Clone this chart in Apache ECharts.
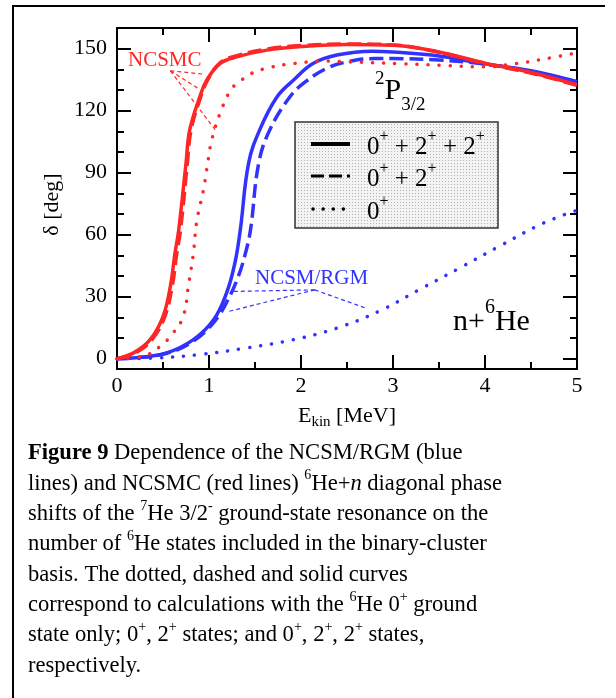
<!DOCTYPE html>
<html>
<head>
<meta charset="utf-8">
<script src="https://cdn.jsdelivr.net/npm/echarts@6/dist/echarts.min.js"></script>
<style>
  html, body { margin: 0; padding: 0; background: #fff; }
  #main { width: 616px; height: 698px; }
</style>
</head>
<body>
<div id="main"></div>
<script>
// n + 6He phase shifts, 2P3/2 channel
var redFullE = [0, 0.18, 0.36, 0.5, 0.58, 0.63, 0.67, 0.75, 0.79, 0.9, 0.975, 1.12, 1.3, 1.63, 2.0, 2.5, 3.0, 3.5, 4.0, 4.5, 5.0];
var redFullD = [0, 2.8, 9.2, 20.4, 35, 51, 62, 94.5, 110.6, 126.7, 134.8, 142.8, 146, 149.3, 151, 152, 151.7, 148.4, 143, 138.5, 132.5];
var redTwoE = [0, 0.2, 0.38, 0.52, 0.6, 0.65, 0.69, 0.765, 0.805, 0.91, 0.985, 1.12, 1.3, 1.63, 2.0, 2.5, 3.0, 3.5, 4.0, 4.5, 5.0];
var redTwoD = [0, 2.8, 9.2, 20.4, 35, 51, 62, 94.5, 110.6, 126.7, 134.8, 143.2, 146.6, 149.8, 151.5, 152.3, 151.8, 148.2, 142.8, 138.2, 132.3];
var redOneE = [0, 0.28, 0.47, 0.61, 0.72, 0.775, 0.83, 0.866, 0.94, 0.975, 1.03, 1.14, 1.25, 1.36, 1.46, 1.64, 1.92, 2.28, 2.53, 3.04, 3.51, 3.98, 4.34, 4.67, 5.0];
var redOneD = [0, 1.1, 6, 12.4, 20.4, 35, 51, 66.3, 81.6, 91.3, 105.8, 121, 130.8, 135, 138, 140.7, 142.8, 144, 143.6, 142.8, 142, 141.2, 142.8, 145.2, 148];

var blueFullE = [0, 0.17, 0.54, 0.83, 1.05, 1.19, 1.28, 1.34, 1.43, 1.55, 1.74, 1.92, 2.13, 2.39, 2.77, 3.0, 3.5, 3.95, 4.5, 5.0];
var blueFullD = [0, 0.3, 2.8, 9.2, 18.8, 31.7, 46, 62.3, 94.5, 110.6, 126.7, 134.8, 142.8, 146.9, 148.8, 148.4, 146.5, 143, 139.3, 134];
var blueTwoE = [0, 0.17, 0.54, 0.83, 1.05, 1.2, 1.32, 1.39, 1.45, 1.54, 1.66, 1.88, 2.05, 2.28, 2.5, 2.8, 3.0, 3.5, 3.95, 4.5, 5.0];
var blueTwoD = [0, 0.3, 2.6, 8.5, 17.5, 28, 40, 50, 62, 94.5, 110.6, 126.7, 134, 140.5, 143.6, 145.2, 145.2, 144.5, 142.8, 139, 134];
var blueOneE = [0, 0.4, 0.9, 1.41, 1.92, 2.39, 2.86, 3.29, 3.73, 4.16, 4.63, 5.0];
var blueOneD = [0, 0.3, 2, 5.2, 9.2, 14.8, 23.2, 33.5, 44, 54.5, 65.5, 71.8];

// annotation pointers (data coordinates)
var ncsmcFrom = [0.58, 139.3];
var ncsmcTo = [[0.96, 137.6], [0.90, 130.3], [1.07, 110.6]];
var rgmFrom = [2.15, 33.3];
var rgmTo = [[1.23, 32.5], [1.21, 22.8], [2.70, 24.5]];

var yLabels = [0, 30, 60, 90, 120, 150];
var yMinor = [0, 10, 20, 30, 40, 50, 60, 70, 80, 90, 100, 110, 120, 130, 140, 150];

var serif = '"Liberation Serif", "Times New Roman", serif';
var RED = '#ff2626';
var BLUE = '#3232ff';

function pairs(xs, ys) {
    return xs.map(function (x, i) { return [x, ys[i]]; });
}

function curve(name, xs, ys, color, dash) {
    var round = dash !== 'solid' && dash[0] < 1;
    return {
        name: name, type: 'line', data: pairs(xs, ys),
        symbol: 'none', smooth: 0.4, silent: true,
        lineStyle: {color: color, width: 3.5, type: dash, cap: round ? 'round' : 'butt'}
    };
}

function pointer(from, to, color) {
    return {
        type: 'lines', coordinateSystem: 'cartesian2d', silent: true, z: 1,
        lineStyle: {color: color, width: 1.2, type: [4, 3], opacity: 1},
        data: to.map(function (p) { return {coords: [from, p]}; })
    };
}

var dotted = [0.1, 11];
var dashed = [14, 6];

function xAx(pos, interval, len, withLine, withLabel) {
    return {
        type: 'value', position: pos, min: 0, max: 5, interval: interval,
        axisLine: {show: withLine, onZero: false, lineStyle: {color: '#000', width: 2}},
        axisTick: {show: true, inside: true, length: len, lineStyle: {color: '#000', width: 2}},
        axisLabel: {show: withLabel, margin: 6, color: '#000', fontSize: 22, fontFamily: serif},
        splitLine: {show: false}
    };
}

function yAx(pos, ticks, len, withLine, withLabel) {
    return {
        type: 'value', position: pos, min: -5, max: 160,
        axisLine: {show: withLine, onZero: false, lineStyle: {color: '#000', width: 2}},
        axisTick: {show: true, inside: true, length: len, customValues: ticks, lineStyle: {color: '#000', width: 2}},
        axisLabel: {show: withLabel, margin: 10, color: '#000', fontSize: 22, fontFamily: serif, customValues: yLabels},
        splitLine: {show: false}
    };
}

// light stipple fill for the legend box
var pat = document.createElement('canvas');
pat.width = 3; pat.height = 3;
var pctx = pat.getContext('2d');
pctx.fillStyle = '#f3f3f3';
pctx.fillRect(0, 0, 3, 3);
pctx.fillStyle = '#b4b4b4';
pctx.fillRect(1, 1, 1, 1);

var xBottom = xAx('bottom', 1, 14, true, true);
xBottom.name = '{a|E}{s|kin}{a| [MeV]}';
xBottom.nameLocation = 'middle';
xBottom.nameGap = 34;
xBottom.nameTextStyle = {
    rich: {
        a: {fontSize: 22, fontFamily: serif, color: '#000'},
        s: {fontSize: 15, fontFamily: serif, color: '#000', padding: [12, 0, 0, 0]}
    }
};

var yLeft = yAx('left', yLabels, 14, true, true);
yLeft.name = 'δ [deg]';
yLeft.nameLocation = 'middle';
yLeft.nameRotate = 90;
yLeft.nameGap = 52;
yLeft.nameTextStyle = {fontSize: 22, fontFamily: serif, color: '#000', padding: [0, 0, 0, -12]};

var option = {
    animation: false,
    backgroundColor: '#fff',
    grid: {left: 117, right: 39, top: 28, bottom: 329, containLabel: false, outerBoundsMode: 'none'},
    xAxis: [xBottom, xAx('bottom', 0.5, 7, false, false), xAx('top', 1, 14, true, false), xAx('top', 0.5, 7, false, false)],
    yAxis: [yLeft, yAx('left', yMinor, 7, false, false), yAx('right', yLabels, 14, true, false), yAx('right', yMinor, 7, false, false)],
    series: [
        curve('NCSM/RGM 0+', blueOneE, blueOneD, BLUE, dotted),
        curve('NCSM/RGM 0+ + 2+', blueTwoE, blueTwoD, BLUE, dashed),
        curve('NCSM/RGM 0+ + 2+ + 2+', blueFullE, blueFullD, BLUE, 'solid'),
        curve('NCSMC 0+', redOneE, redOneD, RED, dotted),
        curve('NCSMC 0+ + 2+ + 2+', redFullE, redFullD, RED, 'solid'),
        curve('NCSMC 0+ + 2+', redTwoE, redTwoD, RED, dashed),
        pointer(ncsmcFrom, ncsmcTo, RED),
        pointer(rgmFrom, rgmTo, BLUE)
    ],
    graphic: [
        // outer figure frame (top and left edges)
        {type: 'polyline', silent: true, shape: {points: [[13, 698], [13, 6], [605, 6]]}, style: {stroke: '#000', lineWidth: 2, fill: null}},
        {type: 'text', x: 128, y: 60, silent: true, style: {text: 'NCSMC', fill: RED, fontSize: 21, fontFamily: serif, verticalAlign: 'middle'}},
        {type: 'text', x: 255, y: 278, silent: true, style: {text: 'NCSM/RGM', fill: BLUE, fontSize: 21, fontFamily: serif, verticalAlign: 'middle'}},
        {
            type: 'text', x: 375, y: 91, silent: true,
            style: {
                text: '{sup|2}{p|P}{sub|3/2}', verticalAlign: 'middle',
                rich: {
                    sup: {fontSize: 19, fontFamily: serif, fill: '#000', padding: [0, 0, 24, 0]},
                    p: {fontSize: 30, fontFamily: serif, fill: '#000'},
                    sub: {fontSize: 19, fontFamily: serif, fill: '#000', padding: [28, 0, 0, 0]}
                }
            }
        },
        {
            type: 'text', x: 453, y: 322, silent: true,
            style: {
                text: 'n+{sup|6}He', fontSize: 30, fontFamily: serif, fill: '#000', verticalAlign: 'middle',
                rich: {sup: {fontSize: 20, fontFamily: serif, fill: '#000', padding: [0, 0, 28, 0]}}
            }
        },
        // legend box
        {
            type: 'group', silent: true,
            children: [
                {type: 'rect', shape: {x: 295, y: 122, width: 203, height: 106}, style: {fill: {image: pat, repeat: 'repeat'}, stroke: '#333', lineWidth: 1.5}},
                {type: 'line', shape: {x1: 311, y1: 144, x2: 350, y2: 144}, style: {stroke: '#000', lineWidth: 4}},
                {type: 'line', shape: {x1: 311, y1: 176, x2: 350, y2: 176}, style: {stroke: '#000', lineWidth: 3, lineDash: [13, 5]}},
                {type: 'line', shape: {x1: 313, y1: 209, x2: 345, y2: 209}, style: {stroke: '#000', lineWidth: 3.5, lineDash: [0.1, 10], lineCap: 'round'}},
                {type: 'text', x: 367, y: 147, style: {text: '0{s|+} + 2{s|+} + 2{s|+}', fontSize: 25, fontFamily: serif, fill: '#000', verticalAlign: 'middle', rich: {s: {fontSize: 16, fontFamily: serif, fill: '#000', padding: [0, 0, 20, 0]}}}},
                {type: 'text', x: 367, y: 179, style: {text: '0{s|+} + 2{s|+}', fontSize: 25, fontFamily: serif, fill: '#000', verticalAlign: 'middle', rich: {s: {fontSize: 16, fontFamily: serif, fill: '#000', padding: [0, 0, 20, 0]}}}},
                {type: 'text', x: 367, y: 212, style: {text: '0{s|+}', fontSize: 25, fontFamily: serif, fill: '#000', verticalAlign: 'middle', rich: {s: {fontSize: 16, fontFamily: serif, fill: '#000', padding: [0, 0, 20, 0]}}}}
            ]
        },
        // caption
        {
            type: 'text', x: 28, y: 438, scaleX: 0.94, silent: true,
            style: {
                text: [
                    '{b|Figure 9} Dependence of the NCSM/RGM (blue',
                    'lines) and NCSMC (red lines) {s|6}He+{i|n} diagonal phase',
                    'shifts of the {s|7}He 3/2{s|-} ground-state resonance on the',
                    'number of {s|6}He states included in the binary-cluster',
                    'basis. The dotted, dashed and solid curves',
                    'correspond to calculations with the {s|6}He 0{s|+} ground',
                    'state only; 0{s|+}, 2{s|+} states; and 0{s|+}, 2{s|+}, 2{s|+} states,',
                    'respectively.'
                ].join('\n'),
                fontSize: 24, fontFamily: serif, fill: '#000', lineHeight: 30.3, verticalAlign: 'top',
                rich: {
                    b: {fontSize: 24, fontFamily: serif, fontWeight: 'bold', fill: '#000', lineHeight: 30.3},
                    i: {fontSize: 24, fontFamily: serif, fontStyle: 'italic', fill: '#000', lineHeight: 30.3},
                    s: {fontSize: 15, fontFamily: serif, fill: '#000', padding: [0, 0, 16, 0], lineHeight: 30.3}
                }
            }
        }
    ]
};

var chart = echarts.init(document.getElementById('main'));
chart.setOption(option);
</script>
</body>
</html>
